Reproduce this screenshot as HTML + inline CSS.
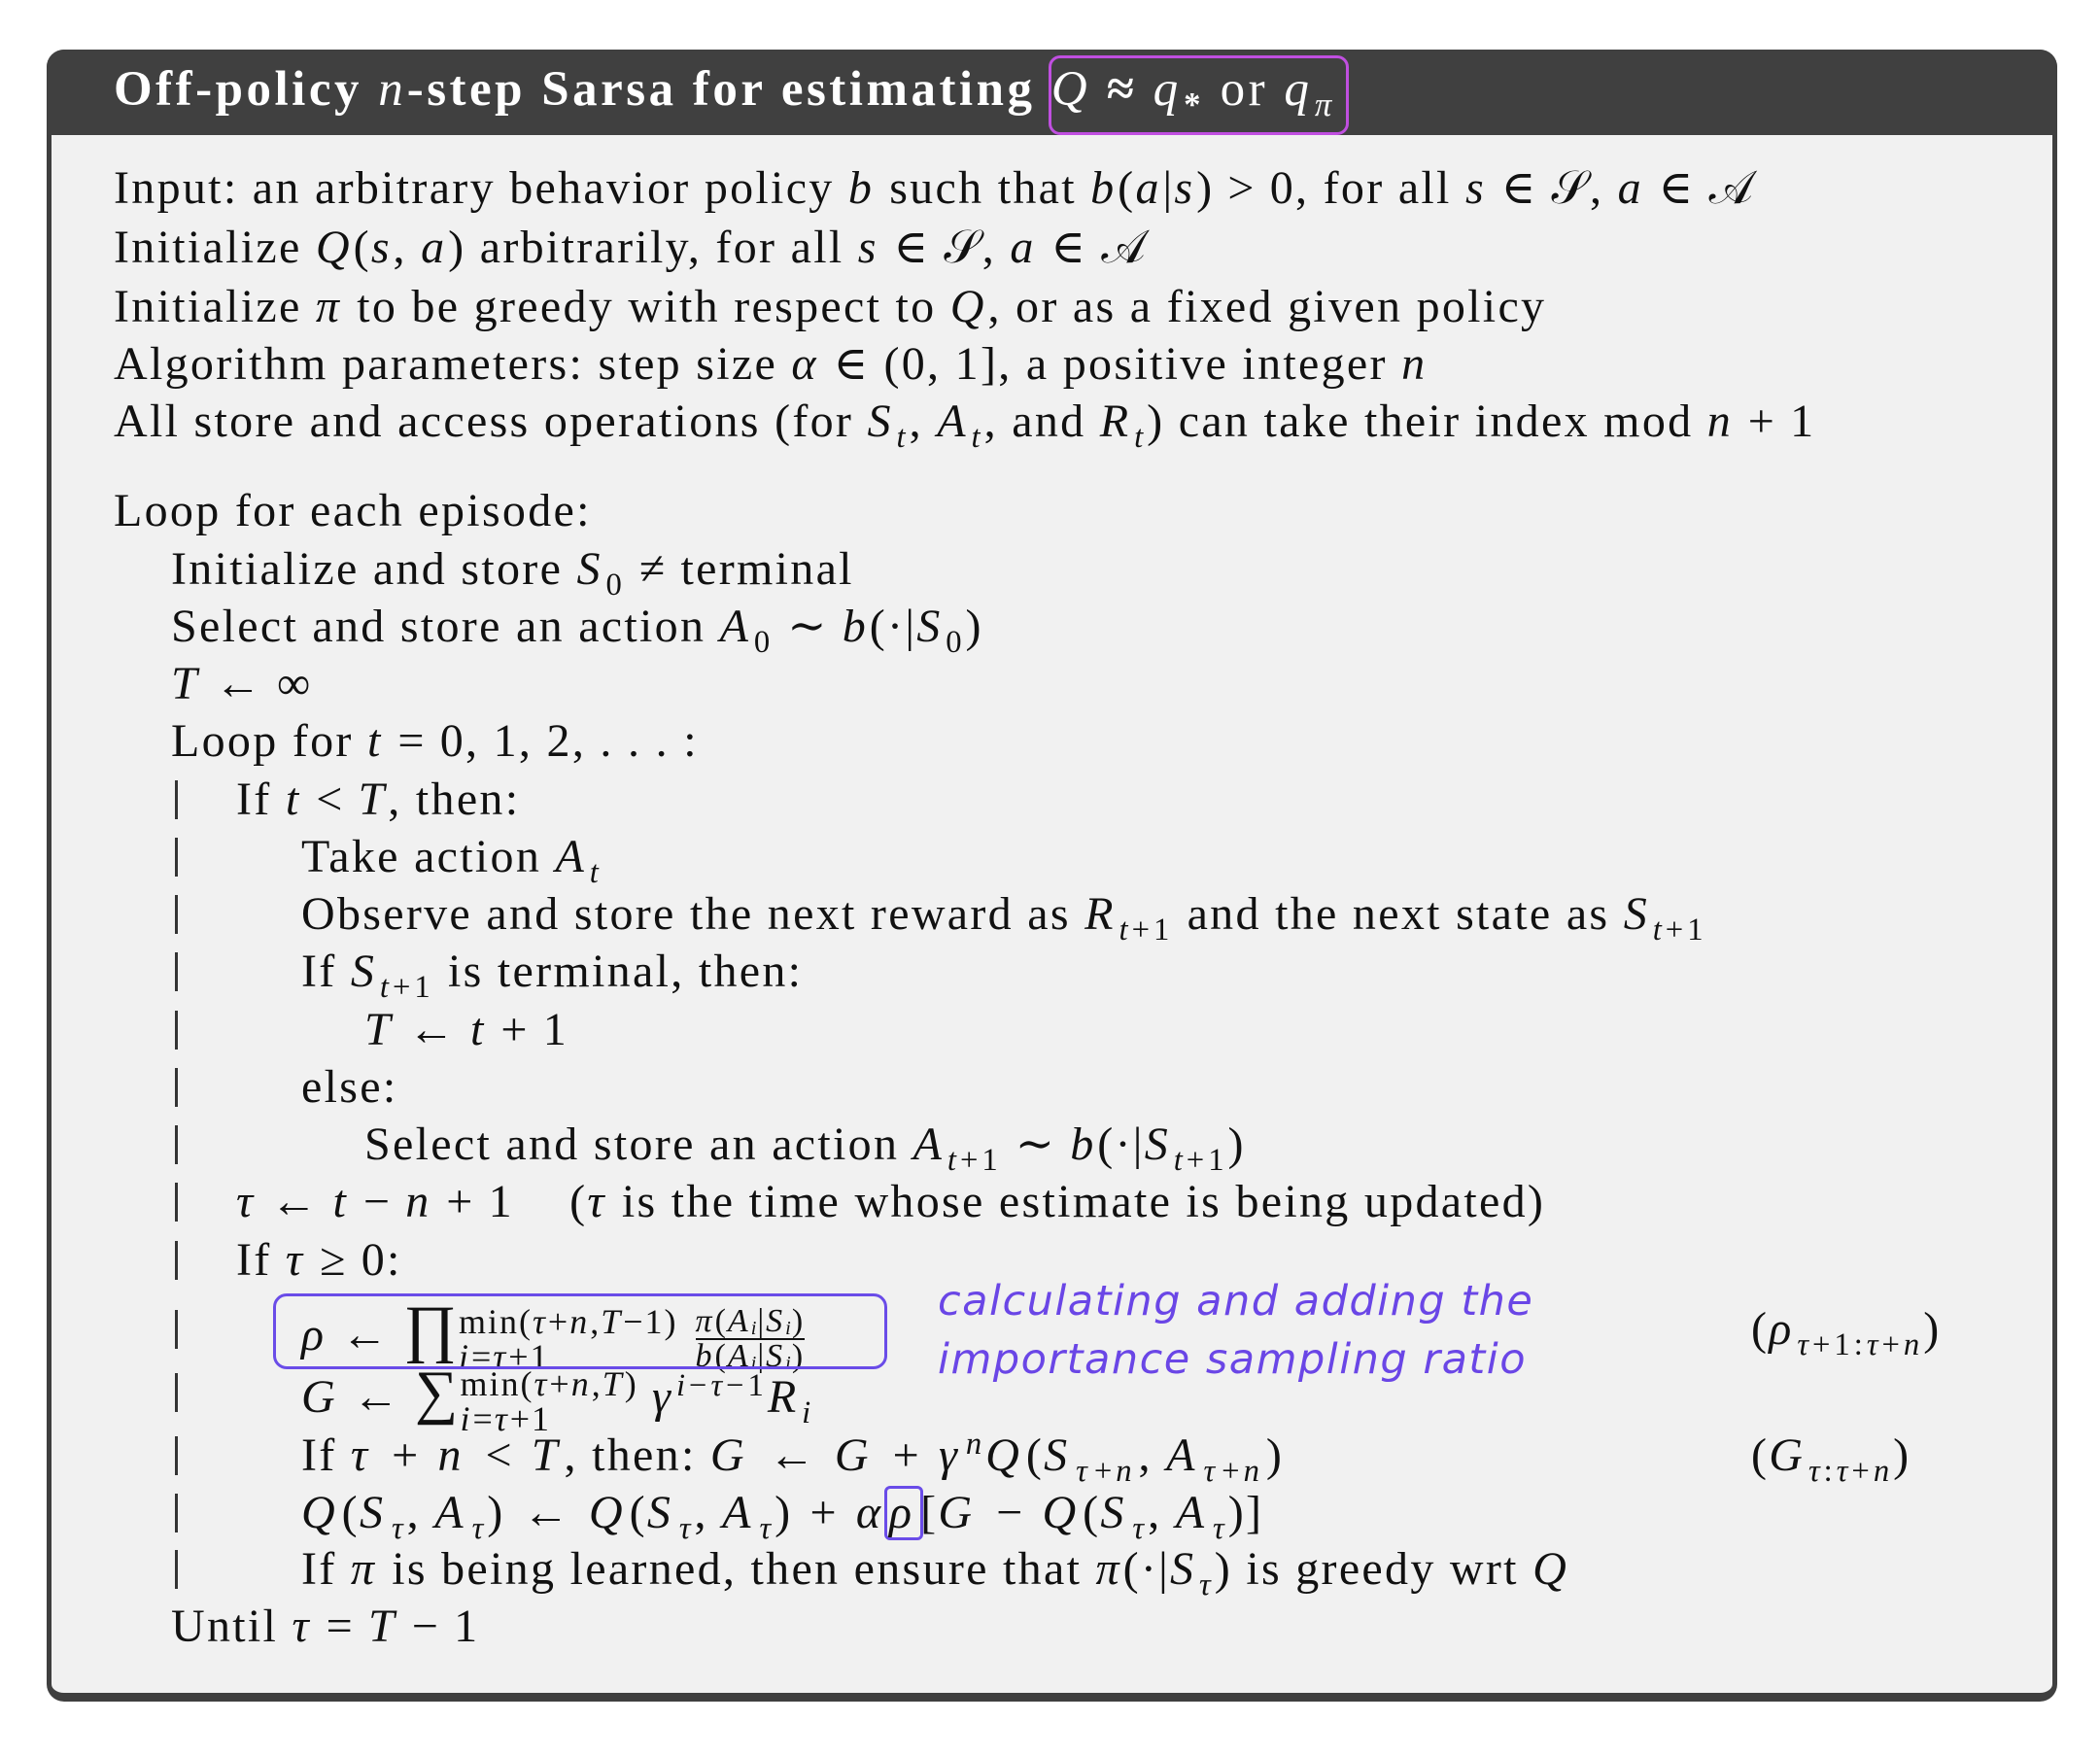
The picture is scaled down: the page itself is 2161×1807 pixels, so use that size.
<!DOCTYPE html>
<html><head><meta charset="utf-8"><style>
body{margin:0;width:2161px;height:1807px;background:#fff;position:relative;overflow:hidden;font-family:"Liberation Serif","DejaVu Serif",serif;}
.box{position:absolute;left:48px;top:51px;width:2059px;height:1686px;background:#f1f1f1;border:5px solid #3f3f3f;border-bottom-width:9px;border-radius:18px;}
.hdr{position:absolute;left:48px;top:51px;width:2069px;height:88px;background:#404040;border-radius:18px 18px 0 0;}
.title{position:absolute;left:117px;top:62px;color:#fff;font-size:51px;font-weight:bold;line-height:60px;white-space:nowrap;letter-spacing:3.5px}
.title i{font-weight:normal}
.l{position:absolute;font-size:48px;line-height:60px;white-space:nowrap;color:#111;letter-spacing:2.3px}
i{font-style:italic;letter-spacing:4px}
.o{margin:0 14px}
sub,sup{font-size:0.68em;line-height:0;letter-spacing:4px;margin-left:2px}
.bar{position:absolute;left:180px;width:3px;height:40px;background:#333}
.hw{position:absolute;left:965px;color:#6a46e6;font-family:"DejaVu Sans",sans-serif;font-size:43px;line-height:60px;white-space:nowrap;font-style:italic;letter-spacing:1.5px}
.st{display:inline-block;vertical-align:middle;line-height:36px;font-size:36px;letter-spacing:2px}
.st i{letter-spacing:3px}
.st sub{font-size:0.6em;vertical-align:-4px;margin-left:0;letter-spacing:1px}
.fr{display:inline-block;vertical-align:middle;font-size:34px;letter-spacing:2px;text-align:center;margin-left:18px}
.fr>span{display:block;height:34px;line-height:34px}
.fr i{letter-spacing:3px}
.fr sub{font-size:0.6em;vertical-align:-3px;margin-left:0;letter-spacing:1px}
.rb{display:inline-block;border:3px solid #6a4ce8;border-radius:6px;padding:0 2px;line-height:50px;margin:0 -3px}
.wide i{letter-spacing:7px}
.wide .o{margin:0 18px}
</style></head><body>
<div class="box"></div>
<div class="hdr"></div>
<div class="title">Off-policy <i>n</i>-step Sarsa for estimating <i>Q</i> ≈ <i>q</i><sub>*</sub> <span style="font-weight:normal">or</span> <i>q</i><sub><i>π</i></sub></div>
<div style="position:absolute;left:1079px;top:57px;width:303px;height:76px;border:3px solid #c04fe0;border-radius:12px"></div>

<div class="l" style="left:117px;top:164px">Input: an arbitrary behavior policy <i>b</i> such that <i>b</i>(<i>a</i>|<i>s</i>)<span class="o">&gt;</span>0, for all <i>s</i><span class="o">∈</span>𝒮, <i>a</i><span class="o">∈</span>𝒜</div>
<div class="l" style="left:117px;top:225px">Initialize <i>Q</i>(<i>s</i>, <i>a</i>) arbitrarily, for all <i>s</i><span class="o">∈</span>𝒮, <i>a</i><span class="o">∈</span>𝒜</div>
<div class="l" style="left:117px;top:286px">Initialize <i>π</i> to be greedy with respect to <i>Q</i>, or as a fixed given policy</div>
<div class="l" style="left:117px;top:345px">Algorithm parameters: step size <i>α</i><span class="o">∈</span>(0, 1], a positive integer <i>n</i></div>
<div class="l" style="left:117px;top:404px">All store and access operations (for <i>S<sub>t</sub></i>, <i>A<sub>t</sub></i>, and <i>R<sub>t</sub></i>) can take their index mod <i>n</i><span class="o">+</span>1</div>

<div class="l" style="left:117px;top:496px">Loop for each episode:</div>
<div class="l" style="left:176px;top:556px">Initialize and store <i>S</i><sub>0</sub><span class="o">≠</span>terminal</div>
<div class="l" style="left:176px;top:615px">Select and store an action <i>A</i><sub>0</sub><span class="o">∼</span><i>b</i>(·|<i>S</i><sub>0</sub>)</div>
<div class="l" style="left:176px;top:674px"><i>T</i><span class="o">←</span>∞</div>
<div class="l" style="left:176px;top:733px">Loop for <i>t</i><span class="o">=</span>0, 1, 2, . . . :</div>
<div class="l" style="left:243px;top:793px">If <i>t</i><span class="o">&lt;</span><i>T</i>, then:</div>
<div class="l" style="left:310px;top:852px">Take action <i>A<sub>t</sub></i></div>
<div class="l" style="left:310px;top:911px">Observe and store the next reward as <i>R</i><sub><i>t</i>+1</sub> and the next state as <i>S</i><sub><i>t</i>+1</sub></div>
<div class="l" style="left:310px;top:970px">If <i>S</i><sub><i>t</i>+1</sub> is terminal, then:</div>
<div class="l" style="left:375px;top:1030px"><i>T</i><span class="o">←</span><i>t</i><span class="o">+</span>1</div>
<div class="l" style="left:310px;top:1089px">else:</div>
<div class="l" style="left:375px;top:1148px">Select and store an action <i>A</i><sub><i>t</i>+1</sub><span class="o">∼</span><i>b</i>(·|<i>S</i><sub><i>t</i>+1</sub>)</div>
<div class="l" style="left:243px;top:1207px"><i>τ</i><span class="o">←</span><i>t</i><span class="o">−</span><i>n</i><span class="o">+</span>1 &nbsp;&nbsp;&nbsp;(<i>τ</i> is the time whose estimate is being updated)</div>
<div class="l" style="left:243px;top:1267px">If <i>τ</i><span class="o">≥</span>0:</div>
<div class="l" style="left:310px;top:1338px"><i>ρ</i><span class="o">←</span><span style="font-size:66px">∏</span><span class="st"><span>min(<i>τ</i>+<i>n</i>,<i>T</i>−1)</span><br><span><i>i</i>=<i>τ</i>+1</span></span><span class="fr"><span style="border-bottom:2px solid #111"><i>π</i>(<i>A<sub>i</sub></i>|<i>S<sub>i</sub></i>)</span><span><i>b</i>(<i>A<sub>i</sub></i>|<i>S<sub>i</sub></i>)</span></span></div>
<div style="position:absolute;left:281px;top:1331px;width:626px;height:72px;border:3px solid #6a4ce8;border-radius:14px"></div>
<div class="l" style="left:310px;top:1403px"><i>G</i><span class="o">←</span><span style="font-size:62px">∑</span><span class="st"><span>min(<i>τ</i>+<i>n</i>,<i>T</i>)</span><br><span><i>i</i>=<i>τ</i>+1</span></span> <i>γ</i><sup><i>i</i>−<i>τ</i>−1</sup><i>R<sub>i</sub></i></div>
<div class="l wide" style="left:310px;top:1468px">If <i>τ</i><span class="o">+</span><i>n</i><span class="o">&lt;</span><i>T</i>, then: <i>G</i><span class="o">←</span><i>G</i><span class="o">+</span><i>γ<sup>n</sup></i><i>Q</i>(<i>S</i><sub><i>τ</i>+<i>n</i></sub>, <i>A</i><sub><i>τ</i>+<i>n</i></sub>)</div>
<div class="l wide" style="left:310px;top:1527px"><i>Q</i>(<i>S<sub>τ</sub></i>, <i>A<sub>τ</sub></i>)<span class="o">←</span><i>Q</i>(<i>S<sub>τ</sub></i>, <i>A<sub>τ</sub></i>)<span class="o">+</span><i>α</i><span class="rb"><i>ρ</i></span>[<i>G</i><span class="o">−</span><i>Q</i>(<i>S<sub>τ</sub></i>, <i>A<sub>τ</sub></i>)]</div>
<div class="l" style="left:310px;top:1585px">If <i>π</i> is being learned, then ensure that <i>π</i>(·|<i>S<sub>τ</sub></i>) is greedy wrt <i>Q</i></div>
<div class="l" style="left:176px;top:1644px">Until <i>τ</i><span class="o">=</span><i>T</i><span class="o">−</span>1</div>

<div class="l" style="left:1802px;top:1338px">(<i>ρ</i><sub><i>τ</i>+1:<i>τ</i>+<i>n</i></sub>)</div>
<div class="l" style="left:1802px;top:1468px">(<i>G</i><sub><i>τ</i>:<i>τ</i>+<i>n</i></sub>)</div>

<div class="hw" style="top:1309px">calculating and adding the</div>
<div class="hw" style="top:1369px">importance sampling ratio</div>

<div class="bar" style="top:803px"></div><div class="bar" style="top:862px"></div><div class="bar" style="top:921px"></div><div class="bar" style="top:980px"></div><div class="bar" style="top:1040px"></div><div class="bar" style="top:1099px"></div><div class="bar" style="top:1158px"></div><div class="bar" style="top:1217px"></div><div class="bar" style="top:1277px"></div><div class="bar" style="top:1348px"></div><div class="bar" style="top:1413px"></div><div class="bar" style="top:1478px"></div><div class="bar" style="top:1537px"></div><div class="bar" style="top:1595px"></div>
</body></html>
